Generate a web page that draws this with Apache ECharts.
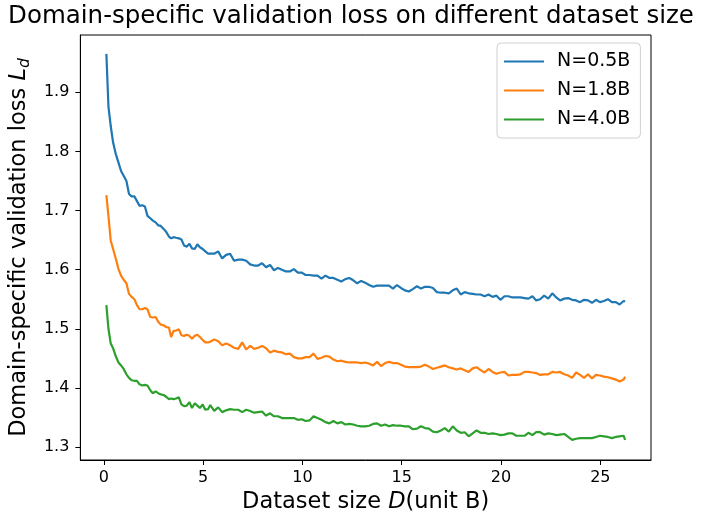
<!DOCTYPE html>
<html>
<head>
<meta charset="utf-8">
<script src="https://cdn.jsdelivr.net/npm/echarts@6/dist/echarts.min.js"></script>
<style>
html,body{margin:0;padding:0;background:#fff;}
#chart{width:702px;height:519px;}
</style>
</head>
<body>
<div id="chart"></div>
<script>
// Dataset size D (unit B)
const datasetSize = [
0.13,0.235,0.35,0.47,0.61,0.74,0.87,1.00,1.14,1.27,1.40,1.54,1.67,1.80,1.94,2.07,2.20,2.34,2.47,2.61,2.74,2.87,3.01,3.14,3.28,3.39,3.51,3.64,3.78,3.91,4.04,4.18,4.31,4.44,4.58,4.71,4.84,4.98,5.11,5.25,
5.36,5.56,5.76,5.96,6.16,6.36,6.56,6.77,6.97,7.17,7.37,7.57,7.77,7.97,8.17,8.37,8.57,8.77,8.97,9.17,9.37,9.57,9.77,9.97,10.16,10.36,
10.56,10.76,10.96,11.16,11.36,11.56,11.76,11.96,12.16,12.36,12.56,12.76,12.96,13.16,13.36,13.56,13.76,13.96,14.16,14.36,14.56,14.76,14.96,15.16,15.36,15.56,
15.77,15.97,16.17,16.37,16.57,16.77,16.97,17.17,17.37,17.57,17.77,17.97,18.17,18.37,18.57,18.77,18.97,19.17,19.37,19.57,19.77,19.97,20.17,20.37,20.57,20.77,
20.98,21.18,21.38,21.58,21.77,21.97,22.17,22.38,22.58,22.78,22.97,23.18,23.38,23.58,23.78,23.98,24.18,24.38,24.58,24.78,24.98,25.18,25.38,25.58,25.78,25.97,26.17,26.25
];
const lossN05 = [
1.965,1.876,1.843,1.815,1.795,1.781,1.767,1.759,1.750,1.728,1.724,1.724,1.716,1.708,1.709,1.707,1.691,1.687,1.683,1.680,1.675,1.674,1.669,1.664,1.656,1.653,1.655,1.654,1.653,1.651,1.641,1.639,1.644,1.636,1.635,1.643,1.638,1.635,1.631,1.627,
1.627,1.627,1.631,1.619,1.625,1.627,1.615,1.617,1.617,1.615,1.609,1.607,1.607,1.611,1.604,1.608,1.599,1.603,1.600,1.597,1.597,1.601,1.595,1.595,1.591,1.591,
1.590,1.590,1.585,1.590,1.586,1.586,1.583,1.580,1.584,1.586,1.582,1.577,1.581,1.578,1.574,1.571,1.573,1.573,1.573,1.573,1.568,1.574,1.569,1.565,1.563,1.567,
1.572,1.568,1.571,1.571,1.569,1.562,1.561,1.561,1.560,1.565,1.568,1.558,1.562,1.560,1.559,1.558,1.558,1.555,1.558,1.554,1.556,1.549,1.555,1.555,1.553,1.553,
1.553,1.552,1.551,1.555,1.548,1.550,1.556,1.551,1.560,1.553,1.548,1.551,1.552,1.549,1.548,1.545,1.549,1.548,1.544,1.549,1.545,1.547,1.550,1.545,1.545,1.541,1.547,1.546
];
const lossN18 = [
1.726,1.691,1.649,1.635,1.618,1.601,1.590,1.583,1.577,1.559,1.554,1.550,1.540,1.533,1.533,1.535,1.533,1.520,1.519,1.520,1.512,1.507,1.506,1.503,1.502,1.486,1.496,1.497,1.499,1.489,1.488,1.490,1.488,1.483,1.488,1.490,1.486,1.481,1.477,1.477,
1.478,1.482,1.479,1.472,1.475,1.472,1.468,1.466,1.477,1.465,1.471,1.466,1.468,1.471,1.467,1.460,1.463,1.461,1.460,1.457,1.458,1.452,1.450,1.450,1.452,1.452,
1.458,1.449,1.451,1.454,1.453,1.448,1.445,1.446,1.444,1.443,1.443,1.443,1.442,1.443,1.441,1.438,1.444,1.437,1.442,1.444,1.442,1.442,1.439,1.436,1.435,1.435,
1.435,1.436,1.439,1.436,1.432,1.434,1.436,1.438,1.435,1.433,1.431,1.433,1.430,1.427,1.433,1.435,1.430,1.426,1.432,1.427,1.424,1.426,1.427,1.421,1.422,1.422,
1.423,1.427,1.427,1.426,1.425,1.422,1.423,1.423,1.427,1.426,1.427,1.423,1.421,1.417,1.426,1.422,1.417,1.423,1.416,1.422,1.421,1.419,1.418,1.416,1.414,1.411,1.414,1.419
];
const lossN40 = [
1.540,1.500,1.475,1.467,1.453,1.443,1.438,1.432,1.423,1.417,1.413,1.412,1.412,1.406,1.404,1.405,1.404,1.396,1.391,1.394,1.391,1.389,1.388,1.385,1.381,1.382,1.381,1.382,1.384,1.372,1.369,1.370,1.376,1.366,1.374,1.370,1.366,1.372,1.363,1.364,
1.371,1.361,1.367,1.359,1.362,1.364,1.363,1.363,1.359,1.363,1.361,1.358,1.359,1.360,1.353,1.357,1.352,1.352,1.349,1.349,1.349,1.349,1.346,1.347,1.344,1.345,
1.352,1.349,1.346,1.342,1.340,1.344,1.340,1.342,1.338,1.339,1.338,1.336,1.335,1.335,1.336,1.339,1.340,1.336,1.338,1.335,1.337,1.336,1.336,1.335,1.335,1.330,
1.331,1.335,1.332,1.331,1.326,1.325,1.328,1.332,1.326,1.335,1.328,1.324,1.325,1.318,1.323,1.328,1.324,1.324,1.322,1.323,1.322,1.320,1.321,1.323,1.323,1.319,
1.319,1.319,1.324,1.320,1.325,1.325,1.321,1.323,1.322,1.320,1.321,1.322,1.317,1.312,1.314,1.315,1.315,1.315,1.315,1.317,1.319,1.318,1.317,1.315,1.317,1.318,1.319,1.312
];
const seriesNames = ['N=0.5B','N=1.8B','N=4.0B'];
const xTicks = [0,5,10,15,20,25];
const yTicks = [1.3,1.4,1.5,1.6,1.7,1.8,1.9];

const FONT = 'DejaVu Sans';
const colors = ['#1f77b4','#ff7f0e','#2ca02c'];
const pair = ys => datasetSize.map((x,i)=>[x, ys[i]]);
const allY = [lossN05, lossN18, lossN40];

const chart = echarts.init(document.getElementById('chart'), null, {renderer:'canvas'});
chart.setOption({
  animation:false,
  backgroundColor:'#fff',
  color: colors,
  title:{
    text:'Domain-specific validation loss on different dataset size',
    left:'center', top:0,
    padding:[4,0,0,15],
    textStyle:{fontFamily:FONT, fontSize:24.5, fontWeight:'normal', color:'#000'}
  },
  legend:{
    orient:'vertical',
    left:497, top:43,
    padding:[9,10,9,7],
    icon:'rect',
    itemWidth:40, itemHeight:2.2, itemGap:10,
    backgroundColor:'#fff',
    borderColor:'#d0d0d0', borderWidth:1, borderRadius:4,
    textStyle:{fontFamily:FONT, fontSize:19, color:'#000', lineHeight:18, padding:[0,0,0,8]},
    data: seriesNames
  },
  grid:{left:78, right:51, top:35, bottom:57, show:true, borderColor:'#000', borderWidth:1, backgroundColor:'transparent'},
  xAxis:{
    type:'value', min:-1.18, max:27.55,
    name:'{n|Dataset size }{i|D}{n|(unit B)}',
    nameLocation:'middle', nameGap:31,
    nameTextStyle:{fontFamily:FONT, fontSize:22.5, color:'#000',
      rich:{n:{fontFamily:FONT,fontSize:22.5,color:'#000'}, i:{fontFamily:FONT,fontSize:22.5,fontStyle:'italic',color:'#000'}}},
    axisLine:{show:true, onZero:false, lineStyle:{color:'#000', width:1}},
    axisTick:{show:true, inside:false, length:5, lineStyle:{color:'#000'}, customValues:xTicks},
    axisLabel:{fontFamily:FONT, fontSize:16, color:'#000', margin:10, customValues:xTicks, formatter:v=>String(v)},
    splitLine:{show:false}
  },
  yAxis:{
    type:'value', min:1.278, max:1.997,
    name:'{n|Domain-specific validation loss }{i|L}{s|d}',
    nameLocation:'middle', nameGap:28,
    nameTextStyle:{fontFamily:FONT, fontSize:22.5, color:'#000',
      rich:{
        n:{fontFamily:FONT,fontSize:22.5,color:'#000',lineHeight:24,verticalAlign:'top'},
        i:{fontFamily:FONT,fontSize:22.5,fontStyle:'italic',color:'#000',lineHeight:24,verticalAlign:'top'},
        s:{fontFamily:FONT,fontSize:15.5,fontStyle:'italic',color:'#000',lineHeight:24,padding:[9,0,0,0],verticalAlign:'top'}
      }},
    axisLine:{show:true, onZero:false, lineStyle:{color:'#000', width:1}},
    axisTick:{show:true, inside:false, length:5, lineStyle:{color:'#000'}, customValues:yTicks},
    axisLabel:{fontFamily:FONT, fontSize:16, color:'#000', margin:11, customValues:yTicks, formatter:v=>v.toFixed(1)},
    splitLine:{show:false}
  },
  series: seriesNames.map((n,k)=>({
    name:n, type:'line', data:pair(allY[k]),
    symbol:'none', showSymbol:false,
    lineStyle:{width:2.2, color:colors[k]},
    itemStyle:{color:colors[k]}
  }))
});
</script>
</body>
</html>
